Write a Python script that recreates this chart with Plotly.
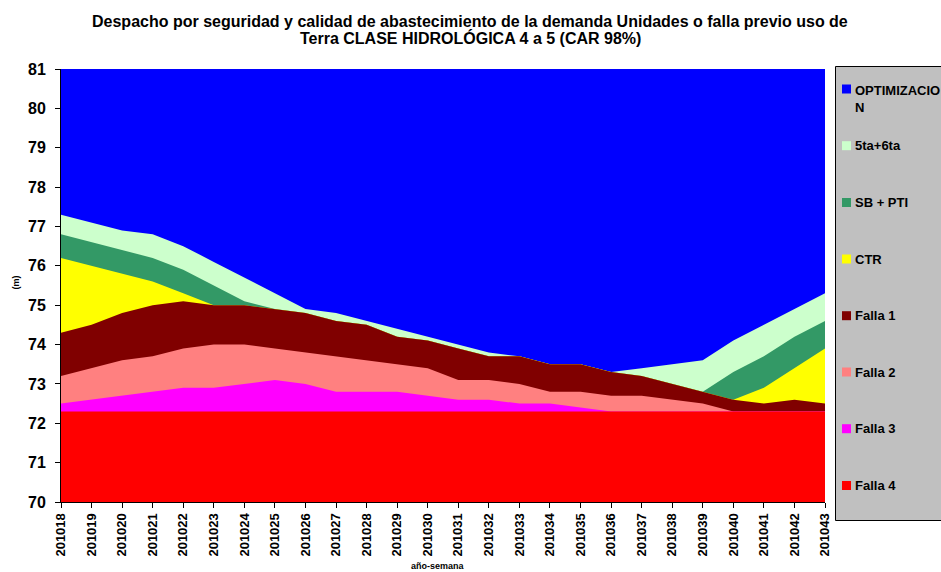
import plotly.graph_objects as go

weeks = ['201018', '201019', '201020', '201021', '201022', '201023', '201024',
         '201025', '201026', '201027', '201028', '201029', '201030', '201031',
         '201032', '201033', '201034', '201035', '201036', '201037', '201038',
         '201039', '201040', '201041', '201042', '201043']

optimizacion = [81.0, 81.0, 81.0, 81.0, 81.0, 81.0, 81.0, 81.0, 81.0, 81.0, 81.0, 81.0, 81.0,
                81.0, 81.0, 81.0, 81.0, 81.0, 81.0, 81.0, 81.0, 81.0, 81.0, 81.0, 81.0, 81.0]
quinta_sexta = [77.3, 77.1, 76.9, 76.8, 76.5, 76.1, 75.7, 75.3, 74.9, 74.8, 74.6, 74.4, 74.2,
                74.0, 73.8, 73.7, 73.5, 73.5, 73.3, 73.4, 73.5, 73.6, 74.1, 74.5, 74.9, 75.3]
sb_pti = [76.8, 76.6, 76.4, 76.2, 75.9, 75.5, 75.1, 74.9, 74.8, 74.6, 74.5, 74.2, 74.1,
          73.9, 73.7, 73.7, 73.5, 73.5, 73.3, 73.2, 73.0, 72.8, 73.3, 73.7, 74.2, 74.6]
ctr = [76.2, 76.0, 75.8, 75.6, 75.3, 75.0, 75.0, 74.9, 74.8, 74.6, 74.5, 74.2, 74.1,
       73.9, 73.7, 73.7, 73.5, 73.5, 73.3, 73.2, 73.0, 72.8, 72.6, 72.9, 73.4, 73.9]
falla1 = [74.3, 74.5, 74.8, 75.0, 75.1, 75.0, 75.0, 74.9, 74.8, 74.6, 74.5, 74.2, 74.1,
          73.9, 73.7, 73.7, 73.5, 73.5, 73.3, 73.2, 73.0, 72.8, 72.6, 72.5, 72.6, 72.5]
falla2 = [73.2, 73.4, 73.6, 73.7, 73.9, 74.0, 74.0, 73.9, 73.8, 73.7, 73.6, 73.5, 73.4,
          73.1, 73.1, 73.0, 72.8, 72.8, 72.7, 72.7, 72.6, 72.5, 72.3, 72.3, 72.3, 72.3]
falla3 = [72.5, 72.6, 72.7, 72.8, 72.9, 72.9, 73.0, 73.1, 73.0, 72.8, 72.8, 72.8, 72.7,
          72.6, 72.6, 72.5, 72.5, 72.4, 72.3, 72.3, 72.3, 72.3, 72.3, 72.3, 72.3, 72.3]
falla4 = [72.3, 72.3, 72.3, 72.3, 72.3, 72.3, 72.3, 72.3, 72.3, 72.3, 72.3, 72.3, 72.3,
          72.3, 72.3, 72.3, 72.3, 72.3, 72.3, 72.3, 72.3, 72.3, 72.3, 72.3, 72.3, 72.3]

series_names = ['OPTIMIZACION', '5ta+6ta', 'SB + PTI', 'CTR', 'Falla 1', 'Falla 2', 'Falla 3', 'Falla 4']
legend_labels = ['OPTIMIZACIO<br>N', '5ta+6ta', 'SB + PTI', 'CTR', 'Falla 1', 'Falla 2', 'Falla 3', 'Falla 4']
series_values = [optimizacion, quinta_sexta, sb_pti, ctr, falla1, falla2, falla3, falla4]
series_colors = ['#0000FF', '#CCFFCC', '#339966', '#FFFF00', '#800000', '#FF8080', '#FF00FF', '#FF0000']

title_lines = ['Despacho por seguridad y calidad de abastecimiento de la demanda Unidades o falla previo uso de',
               'Terra CLASE HIDROLÓGICA 4 a 5 (CAR 98%)']
y_ticks = [70, 71, 72, 73, 74, 75, 76, 77, 78, 79, 80, 81]

FONT = 'Liberation Sans, Arial, sans-serif'
W, H = 941, 572
L, R, T, B = 61, 825, 69, 502  # plot area in pixels


def px(x):
    return (x - L) / (R - L)


def py(y):
    return (B - y) / (B - T)


fig = go.Figure()
for name, vals, col in zip(series_names, series_values, series_colors):
    fig.add_trace(go.Scatter(x=weeks, y=vals, name=name, mode='lines',
                             line=dict(width=0, color=col), fill='tozeroy',
                             fillcolor=col, showlegend=False))

shapes = []
annotations = []

# legend box
shapes.append(dict(type='rect', xref='paper', yref='paper', x0=px(835.5), x1=px(960),
                   y0=py(520.5), y1=py(66.5), fillcolor='#C0C0C0',
                   line=dict(color='#000000', width=1), layer='above'))
item_y = [89, 145.7, 202.5, 259, 315.7, 372, 428.7, 485.5]
for lab, col, yc in zip(legend_labels, series_colors, item_y):
    shapes.append(dict(type='rect', xref='paper', yref='paper', x0=px(842), x1=px(851),
                       y0=py(yc + 4.5), y1=py(yc - 4.5), fillcolor=col,
                       line=dict(width=0), layer='above'))
    if '<br>' in lab:
        annotations.append(dict(xref='paper', yref='paper', x=px(853), y=py(yc - 8),
                                xanchor='left', yanchor='top', align='left', text=lab,
                                showarrow=False,
                                font=dict(family=FONT, size=13, color='#000000', weight='bold')))
    else:
        annotations.append(dict(xref='paper', yref='paper', x=px(853), y=py(yc),
                                xanchor='left', yanchor='middle', text=lab, showarrow=False,
                                font=dict(family=FONT, size=13, color='#000000', weight='bold')))

# title
for line, yc in zip(title_lines, [21.5, 38.5]):
    annotations.append(dict(xref='paper', yref='paper', x=px(470.5), y=py(yc),
                            xanchor='center', yanchor='middle', text=line, showarrow=False,
                            font=dict(family=FONT, size=16, color='#000000', weight='bold')))

# axis titles
annotations.append(dict(xref='paper', yref='paper', x=px(15.5), y=py(283), textangle=-90,
                        xanchor='center', yanchor='middle', text='(m)', showarrow=False,
                        font=dict(family=FONT, size=9, color='#000000', weight='bold')))
annotations.append(dict(xref='paper', yref='paper', x=px(438), y=py(566),
                        xanchor='center', yanchor='middle', text='año-semana', showarrow=False,
                        font=dict(family=FONT, size=9, color='#000000', weight='bold')))

fig.update_layout(
    width=W, height=H,
    margin=dict(l=L, r=W - R, t=T, b=H - B, pad=0),
    paper_bgcolor='#FFFFFF', plot_bgcolor='#FFFFFF',
    showlegend=False,
    shapes=shapes, annotations=annotations,
    xaxis=dict(type='category', range=[0, len(weeks) - 1], showgrid=False, zeroline=False,
               showline=True, linecolor='#000000', linewidth=1, ticks='outside', ticklen=5,
               tickcolor='#000000', tickangle=-90,
               tickfont=dict(family=FONT, size=13, color='#000000', weight='bold')),
    yaxis=dict(range=[70, 81], tickvals=y_ticks, showgrid=False, zeroline=False,
               showline=True, linecolor='#000000', linewidth=1, ticks='outside', ticklen=5,
               tickcolor='#000000', ticklabelstandoff=6,
               tickfont=dict(family=FONT, size=16, color='#000000', weight='bold')),
)

fig.write_html('out.html')
